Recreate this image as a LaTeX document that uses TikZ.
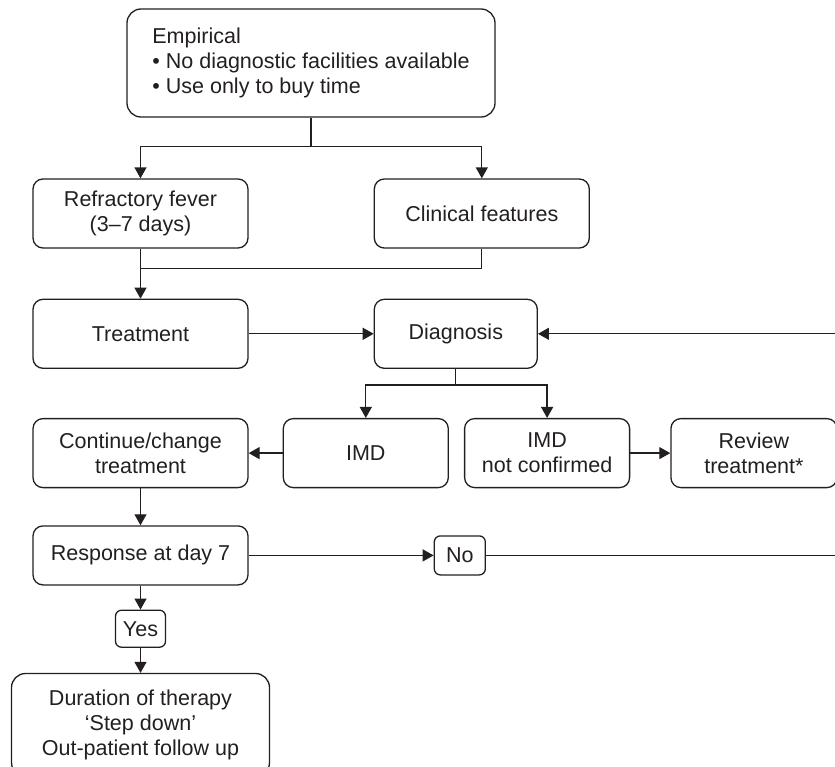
\documentclass[tikz,border=0pt]{standalone}
\usepackage{fontspec}
\setmainfont{Liberation Sans}
\usepackage{xcolor}
\usetikzlibrary{arrows.meta,positioning,calc}
\definecolor{ink}{HTML}{231F20}

\begin{document}
\begin{tikzpicture}[
  x=1bp, y=1bp,
  box/.style={draw=ink, text=ink, rounded corners=10bp, line width=1.3bp, align=center, font=\fontsize{21.6}{25}\selectfont, inner sep=4bp},
  widebox/.style={box, minimum width=215bp, minimum height=69bp},
  midbox/.style={box, minimum width=165bp, minimum height=69bp},
  tag/.style={box, rounded corners=6bp, minimum width=50bp, minimum height=38bp},
  arrow/.style={-{Triangle[length=11bp,width=12bp]}, draw=ink, line width=1.3bp},
  link/.style={draw=ink, line width=1.3bp},
]
\useasboundingbox (0,0) rectangle (835,-767);

\node[box, rounded corners=14bp, minimum width=368bp, minimum height=108bp, align=left] (emp) at (311,-63) {Empirical\\• No diagnostic facilities available\\• Use only to buy time};

\node[widebox] (fever) at (140.5,-213.5) {Refractory fever\\(3–7 days)};
\node[widebox, right=125bp of fever] (clin) {Clinical features};
\node[widebox, below=50bp of fever] (treat) {Treatment};
\node[widebox, minimum width=163bp, right=125bp of treat] (diag) {Diagnosis};
\node[widebox, below=49bp of treat] (cont) {Continue/change\\treatment};
\node[midbox, right=34bp of cont] (imd) {IMD};
\node[midbox, right=15bp of imd] (imdnc) {IMD\\not confirmed};
\node[midbox, minimum width=166bp, right=40bp of imdnc] (review) {Review\\treatment*};
\node[widebox, minimum height=59bp, below=37bp of cont] (resp) {Response at day 7};
\node[tag, minimum width=51bp, minimum height=39bp, right=185bp of resp] (no) {No};
\node[tag, minimum height=37bp, below=24bp of resp] (yes) {Yes};
\node[box, rounded corners=14bp, minimum width=258bp, minimum height=103bp, below=25bp of yes] (dur) {Duration of therapy\\‘Step down’\\Out-patient follow up};

\coordinate (edge) at (835,0);

\draw[arrow] (emp.south) -- ++(0,-29) coordinate (esplit) -| (fever.north);
\draw[arrow] (esplit) -| (clin.north);
\draw[arrow] (fever.south) -- (treat.north);
\draw[link] (clin.south) |- ($(fever.south)!0.4!(treat.north)$);
\draw[arrow] (treat) -- (diag);
\draw[arrow] (edge |- diag.east) -- (diag.east);
\draw[arrow] (diag.south) -- ++(0,-16) coordinate (dsplit) -| (imd.north);
\draw[arrow] (dsplit) -| (imdnc.north);
\draw[arrow] (imd) -- (cont);
\draw[arrow] (imdnc) -- (review);
\draw[arrow] (cont) -- (resp);
\draw[arrow] (resp) -- (no);
\draw[link] (no.east) -- (edge |- no.east);
\draw[arrow] (resp) -- (yes);
\draw[arrow] (yes) -- (dur);

\end{tikzpicture}
\end{document}
